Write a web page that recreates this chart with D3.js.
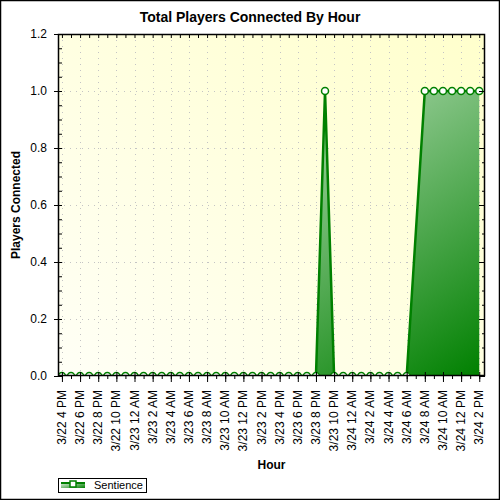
<!DOCTYPE html>
<html>
<head>
<meta charset="utf-8">
<script src="https://cdn.jsdelivr.net/npm/d3@7"></script>
<style>
body { margin: 0; background: #fff; }
text { font-family: "Liberation Sans", Arial, sans-serif; }
</style>
</head>
<body>
<div id="chart"></div>
<script>
// hourly samples for "Sentience" (3/24 7 AM has no sample)
var hours = [
  "3/22 16:00","3/22 17:00","3/22 18:00","3/22 19:00","3/22 20:00","3/22 21:00","3/22 22:00","3/22 23:00",
  "3/23 00:00","3/23 01:00","3/23 02:00","3/23 03:00","3/23 04:00","3/23 05:00","3/23 06:00","3/23 07:00",
  "3/23 08:00","3/23 09:00","3/23 10:00","3/23 11:00","3/23 12:00","3/23 13:00","3/23 14:00","3/23 15:00",
  "3/23 16:00","3/23 17:00","3/23 18:00","3/23 19:00","3/23 20:00","3/23 21:00","3/23 22:00","3/23 23:00",
  "3/24 00:00","3/24 01:00","3/24 02:00","3/24 03:00","3/24 04:00","3/24 05:00","3/24 06:00",
  "3/24 08:00","3/24 09:00","3/24 10:00","3/24 11:00","3/24 12:00","3/24 13:00","3/24 14:00"
]
var players = [
  0,0,0,0,0,0,0,0,
  0,0,0,0,0,0,0,0,
  0,0,0,0,0,0,0,0,
  0,0,0,0,0,1,0,0,
  0,0,0,0,0,0,0,
  1,1,1,1,1,1,1
]
var tickHours = [
  "3/22 16:00","3/22 18:00","3/22 20:00","3/22 22:00","3/23 00:00","3/23 02:00","3/23 04:00","3/23 06:00",
  "3/23 08:00","3/23 10:00","3/23 12:00","3/23 14:00","3/23 16:00","3/23 18:00","3/23 20:00","3/23 22:00",
  "3/24 00:00","3/24 02:00","3/24 04:00","3/24 06:00","3/24 08:00","3/24 10:00","3/24 12:00","3/24 14:00"
]
var tickLabels = [
  "3/22 4 PM","3/22 6 PM","3/22 8 PM","3/22 10 PM","3/23 12 AM","3/23 2 AM","3/23 4 AM","3/23 6 AM",
  "3/23 8 AM","3/23 10 AM","3/23 12 PM","3/23 2 PM","3/23 4 PM","3/23 6 PM","3/23 8 PM","3/23 10 PM",
  "3/24 12 AM","3/24 2 AM","3/24 4 AM","3/24 6 AM","3/24 8 AM","3/24 10 AM","3/24 12 PM","3/24 2 PM"
]
var yTicks = [0, 0.2, 0.4, 0.6, 0.8, 1.0, 1.2]
var seriesName = "Sentience"

const svgWidth = 500
const svgHeight = 500
var plotLeft = 58, plotRight = 485, plotTop = 34, plotBottom = 376

var parse = d3.timeParse("%m/%d %H:%M")
var data = hours.map((h, i) => ({t: parse(h), v: players[i]}))
var tickDates = tickHours.map(parse)

var x = d3.scaleTime()
    .domain([parse("3/22 15:34"), parse("3/24 14:38")])
    .range([plotLeft, plotRight])
var y = d3.scaleLinear()
    .domain([0, 1.2])
    .range([plotBottom, plotTop])

var svg = d3.select("#chart").append("svg")
    .attr("width", svgWidth)
    .attr("height", svgHeight)

var defs = svg.append("defs")
var bg = defs.append("linearGradient").attr("id", "bgGrad")
    .attr("x1", 0).attr("y1", 1).attr("x2", 1).attr("y2", 0)
bg.append("stop").attr("offset", 0).attr("stop-color", "#fffff6")
bg.append("stop").attr("offset", 1).attr("stop-color", "#ffffcc")

var fillGrad = defs.append("linearGradient").attr("id", "areaGrad")
    .attr("x1", 0).attr("y1", 0).attr("x2", 1).attr("y2", 1)
fillGrad.append("stop").attr("offset", 0).attr("stop-color", "#f2fbf2")
fillGrad.append("stop").attr("offset", 1).attr("stop-color", "#008000")

defs.append("clipPath").attr("id", "plotClip")
    .append("rect")
    .attr("x", plotLeft).attr("y", plotTop)
    .attr("width", plotRight - plotLeft).attr("height", plotBottom - plotTop)

// outer frame
svg.append("rect")
    .attr("x", 0.5).attr("y", 0.5)
    .attr("width", svgWidth - 1).attr("height", svgHeight - 1)
    .style("fill", "#fff").style("stroke", "#000").style("stroke-width", "1.5px")

// plot background
svg.append("rect")
    .attr("x", plotLeft).attr("y", plotTop)
    .attr("width", plotRight - plotLeft).attr("height", plotBottom - plotTop)
    .style("fill", "url(#bgGrad)")

// dotted grid
var grid = svg.append("g").style("stroke", "#c4c4c4").style("stroke-dasharray", "1,5")
grid.selectAll("line.gy").data(yTicks.slice(1, -1)).enter().append("line")
    .attr("x1", plotLeft).attr("x2", plotRight)
    .attr("y1", d => y(d) + 0.5).attr("y2", d => y(d) + 0.5)
grid.selectAll("line.gx").data(tickDates).enter().append("line")
    .attr("x1", d => Math.round(x(d)) + 0.5).attr("x2", d => Math.round(x(d)) + 0.5)
    .attr("y1", plotTop).attr("y2", plotBottom)

// series
var plot = svg.append("g").attr("clip-path", "url(#plotClip)")
var area = d3.area().x(d => x(d.t)).y0(y(0)).y1(d => y(d.v))
var line = d3.line().x(d => x(d.t)).y(d => y(d.v))

plot.append("path").datum(data)
    .attr("d", area)
    .style("fill", "url(#areaGrad)")
plot.append("path").datum(data)
    .attr("d", line)
    .style("fill", "none")
    .style("stroke", "#008000")
    .style("stroke-width", "2.5px")
plot.selectAll("circle").data(data).enter().append("circle")
    .attr("cx", d => x(d.t))
    .attr("cy", d => y(d.v))
    .attr("r", 3.5)
    .style("fill", "#fff")
    .style("stroke", "#008000")
    .style("stroke-width", "1.5px")

// axes
var yMinor = d3.range(0, 1.2001, 0.05)
var hourTicks = d3.timeHour.range(parse("3/22 16:00"), parse("3/24 14:01"))

svg.append("g")
    .attr("transform", "translate(" + plotLeft + ",0)")
    .call(d3.axisLeft(y).tickValues(yMinor).tickSize(-4).tickFormat(""))
    .call(g => g.select(".domain").remove())
svg.append("g")
    .attr("transform", "translate(" + (plotLeft + 4) + ",0)")
    .call(d3.axisLeft(y).tickValues(yTicks).tickSize(8).tickPadding(7).tickFormat(d3.format(".1f")))
    .call(g => g.select(".domain").remove())
    .call(g => g.selectAll("text").style("font-size", "12px").style("fill", "#000")
        .style("font-family", "'Liberation Sans', Arial, sans-serif"))

svg.append("g")
    .attr("transform", "translate(" + plotRight + ",0)")
    .call(d3.axisRight(y).tickValues(yMinor).tickSize(-3).tickFormat(""))
    .call(g => g.select(".domain").remove())
svg.append("g")
    .attr("transform", "translate(" + plotRight + ",0)")
    .call(d3.axisRight(y).tickValues(yTicks).tickSize(-6).tickFormat(""))
    .call(g => g.select(".domain").remove())

svg.append("g")
    .attr("transform", "translate(0," + plotBottom + ")")
    .call(d3.axisBottom(x).tickValues(hourTicks).tickSize(3).tickFormat(""))
    .call(g => g.select(".domain").remove())
svg.append("g")
    .attr("transform", "translate(0," + (plotBottom - 4) + ")")
    .call(d3.axisBottom(x).tickValues(tickDates).tickSize(10).tickFormat(""))
    .call(g => g.select(".domain").remove())
svg.append("g")
    .attr("transform", "translate(0," + plotTop + ")")
    .call(d3.axisTop(x).tickValues(hourTicks).tickSize(-4).tickFormat(""))
    .call(g => g.select(".domain").remove())

svg.append("g").selectAll("text").data(tickDates).enter().append("text")
    .attr("transform", d => "translate(" + (x(d) + 4) + ",390) rotate(-90)")
    .attr("text-anchor", "end")
    .style("font-size", "12px")
    .text((d, i) => tickLabels[i])

svg.append("rect")
    .attr("x", plotLeft + 0.5).attr("y", plotTop + 0.5)
    .attr("width", plotRight - plotLeft - 1).attr("height", plotBottom - plotTop - 1)
    .style("fill", "none").style("stroke", "#000").style("stroke-width", "1.5px")

// titles
svg.append("text")
    .attr("x", 250).attr("y", 22)
    .attr("text-anchor", "middle")
    .style("font-size", "14px").style("font-weight", "bold")
    .text("Total Players Connected By Hour")
svg.append("text")
    .attr("transform", "translate(20," + ((plotTop + plotBottom) / 2) + ") rotate(-90)")
    .attr("text-anchor", "middle")
    .style("font-size", "12px").style("font-weight", "bold")
    .text("Players Connected")
svg.append("text")
    .attr("x", (plotLeft + plotRight) / 2).attr("y", 469)
    .attr("text-anchor", "middle")
    .style("font-size", "12px").style("font-weight", "bold")
    .text("Hour")

// legend
var legend = svg.append("g")
legend.append("rect")
    .attr("x", 58.5).attr("y", 478.5).attr("width", 88).attr("height", 14)
    .style("fill", "#fff").style("stroke", "#000")
legend.append("rect")
    .attr("x", 61).attr("y", 482).attr("width", 24).attr("height", 6)
    .style("fill", "url(#areaGrad)")
legend.append("line")
    .attr("x1", 61).attr("x2", 85).attr("y1", 483).attr("y2", 483)
    .style("stroke", "#008000").style("stroke-width", "2px")
legend.append("rect")
    .attr("x", 70).attr("y", 481).attr("width", 6).attr("height", 6)
    .style("fill", "#fff").style("stroke", "#008000").style("stroke-width", "1.5px")
legend.append("text")
    .attr("x", 94).attr("y", 489)
    .style("font-size", "11px")
    .text(seriesName)
</script>
</body>
</html>
